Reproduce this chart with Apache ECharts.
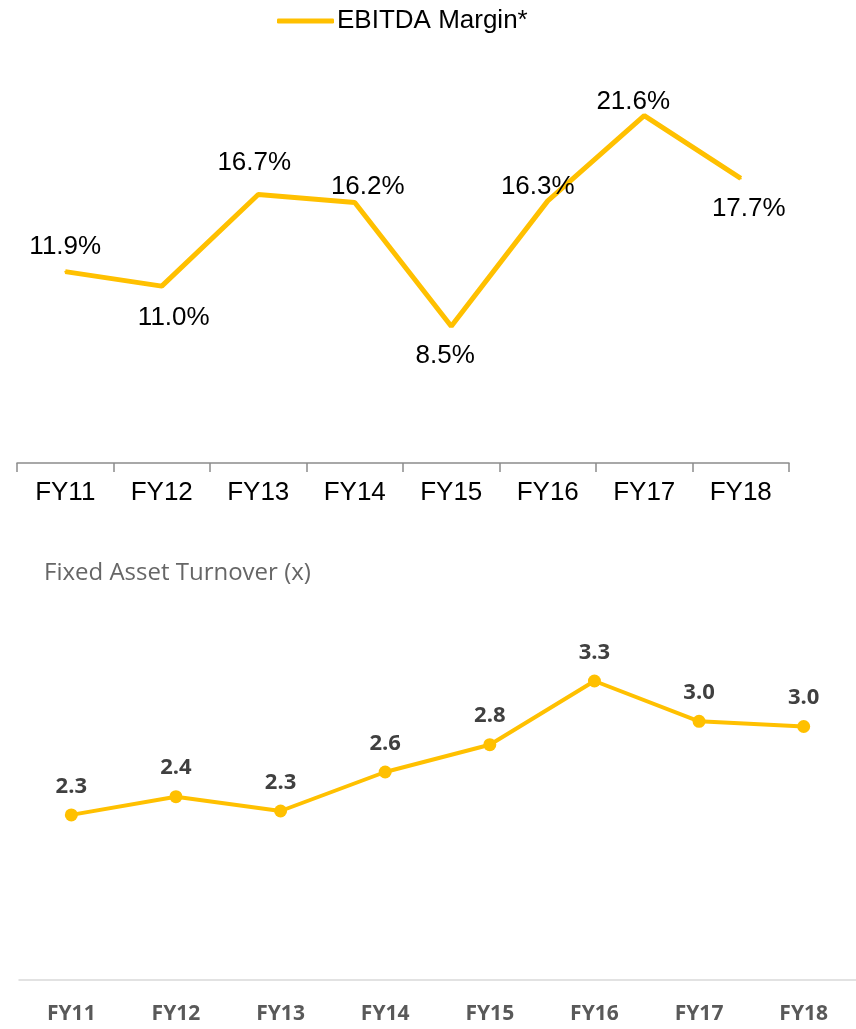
<!DOCTYPE html>
<html>
<head>
<meta charset="utf-8">
<script src="https://cdn.jsdelivr.net/npm/echarts@6/dist/echarts.min.js"></script>
<style>
  html, body { margin: 0; padding: 0; background: #fff; }
  #main { width: 856px; height: 1029px; }
</style>
</head>
<body>
<div id="main"></div>
<script>
var years = ['FY11', 'FY12', 'FY13', 'FY14', 'FY15', 'FY16', 'FY17', 'FY18'];
var ebitdaMargin = [11.9, 11.0, 16.7, 16.2, 8.5, 16.3, 21.6, 17.7];
var assetTurnover = [2.27, 2.41, 2.3, 2.6, 2.81, 3.3, 2.99, 2.95];
// where each margin label sits, relative to its point
var marginLabelOffsets = [[0, -25], [12, 32], [-4, -32], [13, -16], [-6, 30], [-10, -14], [-11, -14], [8, 30]];

var gold = '#FFC000';
var myChart = echarts.init(document.getElementById('main'));

var marginData = ebitdaMargin.map(function (v, i) {
    return {
        value: v,
        label: { offset: marginLabelOffsets[i] }
    };
});

option = {
    animation: false,
    title: {
        text: 'Fixed Asset Turnover (x)',
        left: 39,
        top: 556,
        textStyle: {
            fontFamily: 'Open Sans',
            fontWeight: 'normal',
            fontSize: 24,
            color: '#666666'
        }
    },
    legend: {
        top: 3,
        left: 272,
        itemWidth: 57,
        itemHeight: 5,
        itemGap: 5,
        icon: 'roundRect',
        data: ['EBITDA Margin*'],
        textStyle: {
            fontFamily: 'Liberation Sans',
            fontSize: 26,
            color: '#000',
            padding: [0, 0, 0, -2]
        }
    },
    grid: [
        { left: 17, width: 772, top: 61, height: 402 },
        { left: 19, width: 840, top: 642, height: 338 }
    ],
    xAxis: [{
        gridIndex: 0,
        type: 'category',
        data: years,
        axisLine: { lineStyle: { color: '#8c8c8c', width: 1.5 } },
        axisTick: { show: true, length: 9, lineStyle: { color: '#8c8c8c', width: 1.5 } },
        axisLabel: {
            fontFamily: 'Liberation Sans',
            fontSize: 26,
            color: '#000',
            margin: 17
        }
    }, {
        gridIndex: 1,
        type: 'category',
        data: years,
        axisLine: { lineStyle: { color: '#d9d9d9', width: 1.5 } },
        axisTick: { show: false },
        axisLabel: {
            fontFamily: 'Open Sans',
            fontWeight: 'bold',
            fontSize: 21,
            color: '#595959',
            margin: 24
        }
    }],
    yAxis: [{
        gridIndex: 0,
        type: 'value',
        min: 0,
        max: 25,
        show: false
    }, {
        gridIndex: 1,
        type: 'value',
        min: 1,
        max: 3.6,
        show: false
    }],
    series: [{
        name: 'EBITDA Margin*',
        type: 'line',
        xAxisIndex: 0,
        yAxisIndex: 0,
        data: marginData,
        symbol: 'circle',
        symbolSize: 2,
        itemStyle: { color: gold, borderWidth: 0 },
        lineStyle: { color: gold, width: 5 },
        label: {
            show: true,
            position: 'inside',
            fontFamily: 'Liberation Sans',
            fontSize: 26,
            color: '#000',
            formatter: function (p) { return p.value.toFixed(1) + '%'; }
        }
    }, {
        name: 'Fixed Asset Turnover (x)',
        type: 'line',
        xAxisIndex: 1,
        yAxisIndex: 1,
        data: assetTurnover,
        symbol: 'circle',
        symbolSize: 13,
        itemStyle: { color: gold, borderWidth: 0 },
        lineStyle: { color: gold, width: 4 },
        label: {
            show: true,
            position: 'top',
            distance: 11,
            fontFamily: 'Open Sans',
            fontWeight: 'bold',
            fontSize: 22,
            color: '#404040',
            formatter: function (p) { return p.value.toFixed(1); }
        }
    }]
};

myChart.setOption(option);
</script>
</body>
</html>
